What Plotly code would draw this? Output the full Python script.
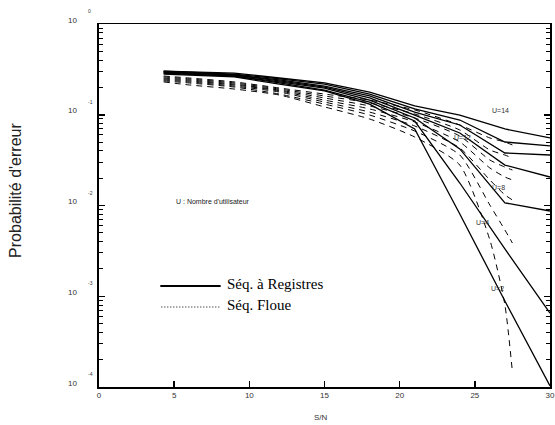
import math
import plotly.graph_objects as go

# ---------------- data ----------------
snr_reg = [4.3, 6, 9, 12, 15, 18, 21, 24, 27, 30]
snr_floue = [4.3, 6, 9, 12, 15, 18, 21, 24, 26, 27, 27.5]

# Séq. à Registres (solid)
reg_u14 = [0.303, 0.296, 0.288, 0.254, 0.224, 0.178, 0.125, 0.0993, 0.0697, 0.0555]
reg_u12 = [0.303, 0.296, 0.281, 0.248, 0.218, 0.169, 0.116, 0.0875, 0.0501, 0.0453]
reg_u10 = [0.296, 0.288, 0.274, 0.242, 0.207, 0.161, 0.107, 0.0771, 0.0379, 0.0360]
reg_u8 = [0.296, 0.288, 0.274, 0.236, 0.202, 0.153, 0.0993, 0.0630, 0.0279, 0.0206]
reg_u6 = [0.288, 0.281, 0.267, 0.230, 0.197, 0.145, 0.0921, 0.0420, 0.0107, 0.00869]
reg_u4 = [0.288, 0.281, 0.267, 0.224, 0.187, 0.138, 0.0853, 0.0177, 0.00332, 0.000653]
reg_u2 = [0.281, 0.274, 0.261, 0.218, 0.183, 0.131, 0.0697, 0.00805, 0.000887, 0.000103]

# Séq. Floue (dashed)
fl_u14 = [0.267, 0.254, 0.230, 0.197, 0.169, 0.145, 0.113, 0.0771, 0.0555, 0.0501, 0.0464]
fl_u12 = [0.261, 0.248, 0.224, 0.192, 0.161, 0.135, 0.102, 0.0679, 0.0409, 0.0360, 0.0334]
fl_u10 = [0.254, 0.242, 0.218, 0.187, 0.153, 0.125, 0.0921, 0.0583, 0.0317, 0.0265, 0.0246]
fl_u8 = [0.248, 0.236, 0.213, 0.183, 0.145, 0.116, 0.0832, 0.0501, 0.0259, 0.0206, 0.0191]
fl_u6 = [0.242, 0.230, 0.207, 0.178, 0.138, 0.107, 0.0752, 0.0430, 0.0191, 0.0131, 0.0115]
fl_u4 = [0.236, 0.224, 0.202, 0.169, 0.131, 0.0993, 0.0662, 0.0360, 0.0101, 0.00537, 0.00386]
fl_u2 = [0.230, 0.213, 0.192, 0.165, 0.122, 0.0898, 0.0569, 0.0279, 0.00417, 0.000801, 0.000146]

reg_series = [reg_u14, reg_u12, reg_u10, reg_u8, reg_u6, reg_u4, reg_u2]
floue_series = [fl_u14, fl_u12, fl_u10, fl_u8, fl_u6, fl_u4, fl_u2]
series_names = ["U=14", "U=12", "U=10", "U=8", "U=6", "U=4", "U=2"]

x_ticks = [0, 5, 10, 15, 20, 25, 30]
y_exponents = [0, -1, -2, -3, -4]
y_base_label = "10"

curve_labels = ["U=14", "U=12", "U=8", "U=4", "U=2"]
curve_label_x = [26.7, 24.2, 26.6, 25.5, 26.5]
curve_label_y = [0.110, 0.0555, 0.0156, 0.00657, 0.00123]

note_text = "U : Nombre d'utilisateur"
legend_texts = ["Séq. à Registres", "Séq. Floue"]
y_title = "Probabilité d'erreur"
x_title = "S/N"

# ---------------- figure ----------------
SANS = "Liberation Sans, Arial, sans-serif"
SERIF = "Liberation Serif, Times New Roman, serif"

fig = go.Figure()
for name, ys in zip(series_names, reg_series):
    fig.add_trace(go.Scatter(x=snr_reg, y=ys, mode="lines", name="Reg " + name,
                             line=dict(color="black", width=1.3), showlegend=False))
for name, ys in zip(series_names, floue_series):
    fig.add_trace(go.Scatter(x=snr_floue, y=ys, mode="lines", name="Floue " + name,
                             line=dict(color="black", width=1, dash="6px,5px",
                                       shape="spline", smoothing=0.6),
                             showlegend=False))

L, R, T, B = 99, 0, 24, 38
W, H = 555, 425
PW, PH = W - L - R, H - T - B

def px_x(p):
    return (p - L) / PW

def px_y(p):
    return (H - B - p) / PH

annotations = []
for e in y_exponents:
    annotations.append(dict(x=px_x(79), xref="paper", y=e, yref="y", text=y_base_label,
                            showarrow=False, xanchor="right", yanchor="middle", yshift=4,
                            font=dict(family=SANS, size=8, color="#333")))
    annotations.append(dict(x=px_x(86), xref="paper", y=e, yref="y", text=str(e),
                            showarrow=False, xanchor="left", yanchor="middle", yshift=13,
                            font=dict(family=SANS, size=5, color="#333")))
for t, cx, cy in zip(curve_labels, curve_label_x, curve_label_y):
    annotations.append(dict(x=cx, y=math.log10(cy), xref="x", yref="y", text=t, showarrow=False,
                            font=dict(family=SANS, size=7, color="#333")))
annotations.append(dict(x=px_x(175), xref="paper", y=px_y(201), yref="paper", text=note_text,
                        showarrow=False, xanchor="left", yanchor="middle",
                        font=dict(family=SANS, size=7, color="#222")))
annotations.append(dict(x=px_x(226), xref="paper", y=px_y(284), yref="paper", text=legend_texts[0],
                        showarrow=False, xanchor="left", yanchor="middle",
                        font=dict(family=SERIF, size=15, color="black")))
annotations.append(dict(x=px_x(226), xref="paper", y=px_y(305), yref="paper", text=legend_texts[1],
                        showarrow=False, xanchor="left", yanchor="middle",
                        font=dict(family=SERIF, size=15, color="black")))
annotations.append(dict(x=px_x(15), xref="paper", y=px_y(190), yref="paper", text=y_title,
                        showarrow=False, textangle=-90, xanchor="center", yanchor="middle",
                        font=dict(family=SANS, size=16, color="#222")))
annotations.append(dict(x=px_x(323), xref="paper", y=px_y(423), yref="paper", text=x_title,
                        showarrow=False, xanchor="center", yanchor="bottom", borderpad=0,
                        font=dict(family=SANS, size=8, color="#333")))

shapes = [
    dict(type="line", xref="paper", yref="paper", x0=px_x(161), x1=px_x(222),
         y0=px_y(286), y1=px_y(286), line=dict(color="black", width=2)),
    dict(type="line", xref="paper", yref="paper", x0=px_x(162), x1=px_x(222),
         y0=px_y(307), y1=px_y(307), line=dict(color="black", width=1, dash="1px,2px")),
]

fig.update_layout(
    width=W, height=H, autosize=False,
    margin=dict(l=L, r=R, t=T, b=B),
    paper_bgcolor="white", plot_bgcolor="white",
    showlegend=False, hovermode=False,
    annotations=annotations, shapes=shapes,
    xaxis=dict(range=[0, 30], tickmode="array", tickvals=x_ticks, ticktext=[str(v) for v in x_ticks],
               ticks="inside", ticklen=6, tickwidth=1.5, tickcolor="black",
               showline=True, linecolor="black", linewidth=1.5, mirror=True,
               showgrid=False, zeroline=False, ticklabeloverflow="allow",
               tickfont=dict(family=SANS, size=8, color="#333")),
    yaxis=dict(type="log", range=[-4, 0], dtick=1, showticklabels=False,
               ticks="inside", ticklen=6, tickwidth=1.5, tickcolor="black",
               showline=True, linecolor="black", linewidth=2, mirror="ticks",
               showgrid=False, zeroline=False,
               minor=dict(dtick="D1", ticks="inside", ticklen=4, tickwidth=1,
                          tickcolor="black", showgrid=False)),
)

fig.write_html("out.html", config={"displayModeBar": False, "staticPlot": True},
               post_script="document.body.style.margin='0';document.body.style.padding='0';"
                           "document.body.style.overflow='hidden';")
